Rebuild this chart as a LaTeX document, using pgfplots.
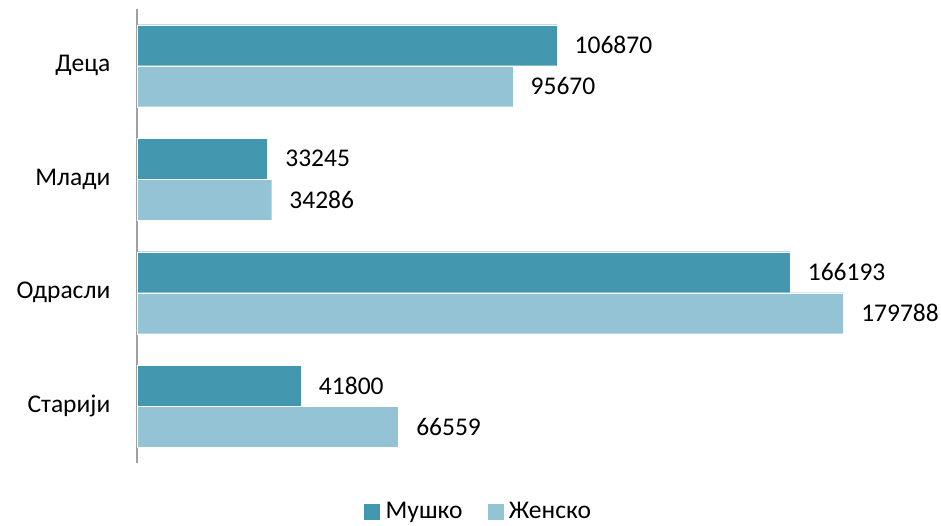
\documentclass[border=0pt]{standalone}
\usepackage{fontspec}
\setmainfont{Carlito}
\usepackage{pgfplots}
\pgfplotsset{compat=1.18}
\definecolor{muski}{RGB}{67,152,176}
\definecolor{zenski}{RGB}{147,195,213}
\definecolor{axgray}{RGB}{160,160,160}
\begin{document}
\fontsize{25.5}{30}\selectfont
\begin{tikzpicture}[x=1pt,y=1pt]
\useasboundingbox (0,0) rectangle (941,526);
\begin{axis}[
  at={(137pt,63pt)}, anchor=south west,
  scale only axis, width=786pt, height=454pt,
  xmin=0, xmax=200000, ymin=-0.5, ymax=3.5,
  hide x axis,
  axis y line*=left,
  y axis line style={draw=axgray, line width=1.2pt, -},
  ytick={0,1,2,3},
  yticklabels={Старији,Одрасли,Млади,Деца},
  major tick length=0pt,
  yticklabel style={xshift=-18pt, font=\fontsize{25.5}{30}\selectfont},
  xbar=0pt, bar width=41pt,
  clip=false,
  point meta=explicit symbolic,
  nodes near coords,
  nodes near coords align=horizontal,
  every node near coord/.append style={anchor=west, xshift=9pt, text=black, font=\fontsize{25.5}{30}\selectfont},
  legend style={at={(0.434,-0.108)}, anchor=center, draw=none, legend columns=2,
    font=\fontsize{25.5}{30}\selectfont,
    /tikz/every even column/.append style={column sep=22pt}},
  legend image code/.code={\fill[#1] (0pt,-8.5pt) rectangle (17pt,8.5pt); \path (20pt,0pt);},
]
\addplot[fill=muski, draw=white, line width=0.4pt, bar shift=20.5pt] coordinates {
  (106870,3) [106870]
  (33245,2) [33245]
  (166193,1) [166193]
  (41800,0) [41800]
};
\addplot[fill=zenski, draw=white, line width=0.4pt, bar shift=-20.5pt] coordinates {
  (95670,3) [95670]
  (34286,2) [34286]
  (179788,1) [179788]
  (66559,0) [66559]
};
\legend{Мушко, Женско}
\end{axis}
\end{tikzpicture}
\end{document}
